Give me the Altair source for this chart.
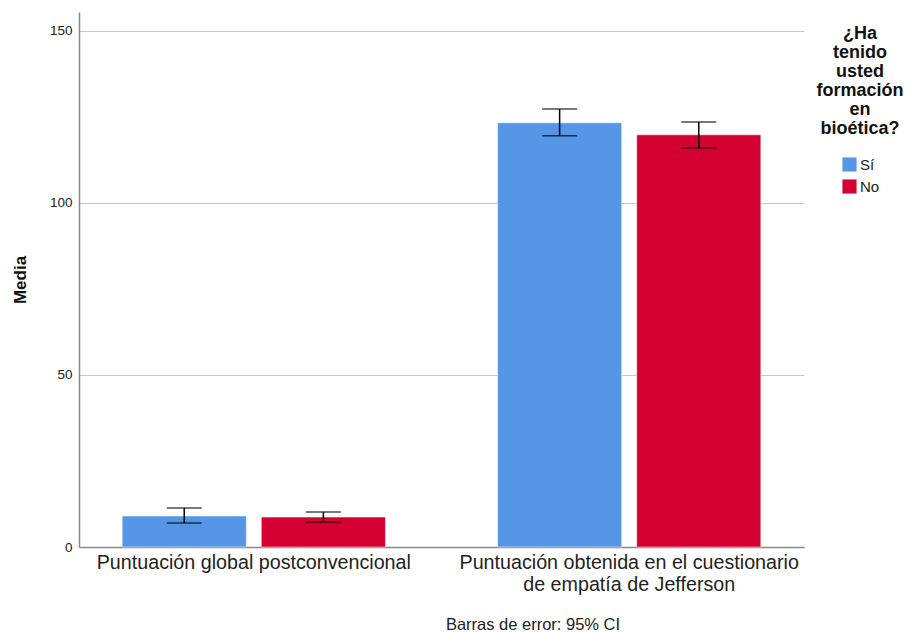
import altair as alt
import pandas as pd

categories = ["Puntuación global postconvencional",
              "Puntuación obtenida en el cuestionario\nde empatía de Jefferson"]
groups = ["Sí", "No"]
means = {"Sí": [9.0, 123.3], "No": [8.7, 119.8]}
ci_low = {"Sí": [7.0, 119.5], "No": [7.3, 116.0]}
ci_high = {"Sí": [11.3, 127.3], "No": [10.2, 123.5]}
colors = ["#5596E6", "#D50032"]
legend_title = ["¿Ha", "tenido", "usted", "formación", "en", "bioética?"]

rows = []
for g in groups:
    for i, c in enumerate(categories):
        rows.append({"cat": c, "grp": g, "mean": means[g][i],
                     "lo": ci_low[g][i], "hi": ci_high[g][i]})
df = pd.DataFrame(rows)

xenc = alt.X("cat:N", sort=categories, title=None,
             scale=alt.Scale(paddingInner=0.2987, paddingOuter=0.115),
             axis=alt.Axis(labelAngle=0, labelExpr="split(datum.label, '\\n')",
                           labelFontSize=19.7, labelFont="Liberation Sans",
                           labelColor="#222222", ticks=False, labelPadding=5,
                           domainColor="#888888", domainWidth=1.5, labelLimit=500,
                           labelLineHeight=22))
xoff = alt.XOffset("grp:N", sort=groups, scale=alt.Scale(paddingInner=0.108))
yscale = alt.Scale(domain=[0, 155.5], nice=False)

bars = alt.Chart(df).mark_bar(stroke="white", strokeWidth=0.5).encode(
    x=xenc, xOffset=xoff,
    y=alt.Y("mean:Q", scale=yscale, title="Media",
            axis=alt.Axis(values=[0, 50, 100, 150], ticks=False, grid=True,
                          gridColor="#c8c8c8", domainColor="#888888", domainWidth=1.5,
                          labelFontSize=13.5, labelFont="Liberation Sans", labelColor="#222222",
                          labelPadding=7, titleFontSize=17, titleFont="Liberation Sans",
                          titleFontWeight="bold", titleColor="#111111", titlePadding=20)),
    color=alt.Color("grp:N", sort=groups, scale=alt.Scale(domain=groups, range=colors),
                    legend=alt.Legend(title=None, orient="none", legendX=763, legendY=145,
                                      symbolType="square", symbolSize=200,
                                      symbolStrokeWidth=0, labelFontSize=15,
                                      labelFont="Liberation Sans", labelColor="#222222",
                                      rowPadding=6, labelOffset=3)),
)

rule = alt.Chart(df).mark_rule(color="black", strokeWidth=1.5).encode(
    x=alt.X("cat:N", sort=categories), xOffset=xoff,
    y=alt.Y("lo:Q", scale=yscale), y2="hi:Q")
cap_lo = alt.Chart(df).mark_tick(color="black", thickness=1.5, size=35).encode(
    x=alt.X("cat:N", sort=categories), xOffset=xoff, y=alt.Y("lo:Q", scale=yscale))
cap_hi = alt.Chart(df).mark_tick(color="black", thickness=1.5, size=35).encode(
    x=alt.X("cat:N", sort=categories), xOffset=xoff, y=alt.Y("hi:Q", scale=yscale))

ltitle = alt.Chart(pd.DataFrame({"a": [0]})).mark_text(
    text=legend_title, font="Liberation Sans", fontSize=18, fontWeight="bold",
    lineHeight=19, align="center", baseline="top", color="#111111").encode(
    x=alt.value(781), y=alt.value(13))
foot = alt.Chart(pd.DataFrame({"a": [0]})).mark_text(
    text="Barras de error: 95% CI", font="Liberation Sans", fontSize=16.5,
    align="center", baseline="middle", color="#222222").encode(
    x=alt.value(454), y=alt.value(613))

chart = alt.layer(bars, rule, cap_lo, cap_hi, ltitle, foot).properties(
    width=725, height=535,
    autosize=alt.AutoSizeParams(type="none"),
    padding={"left": 79, "top": 12, "right": 111, "bottom": 85},
).configure(background="white").configure_view(strokeWidth=0, stroke="transparent")

chart.save("out.html", embed_options={"renderer": "svg", "actions": False})
